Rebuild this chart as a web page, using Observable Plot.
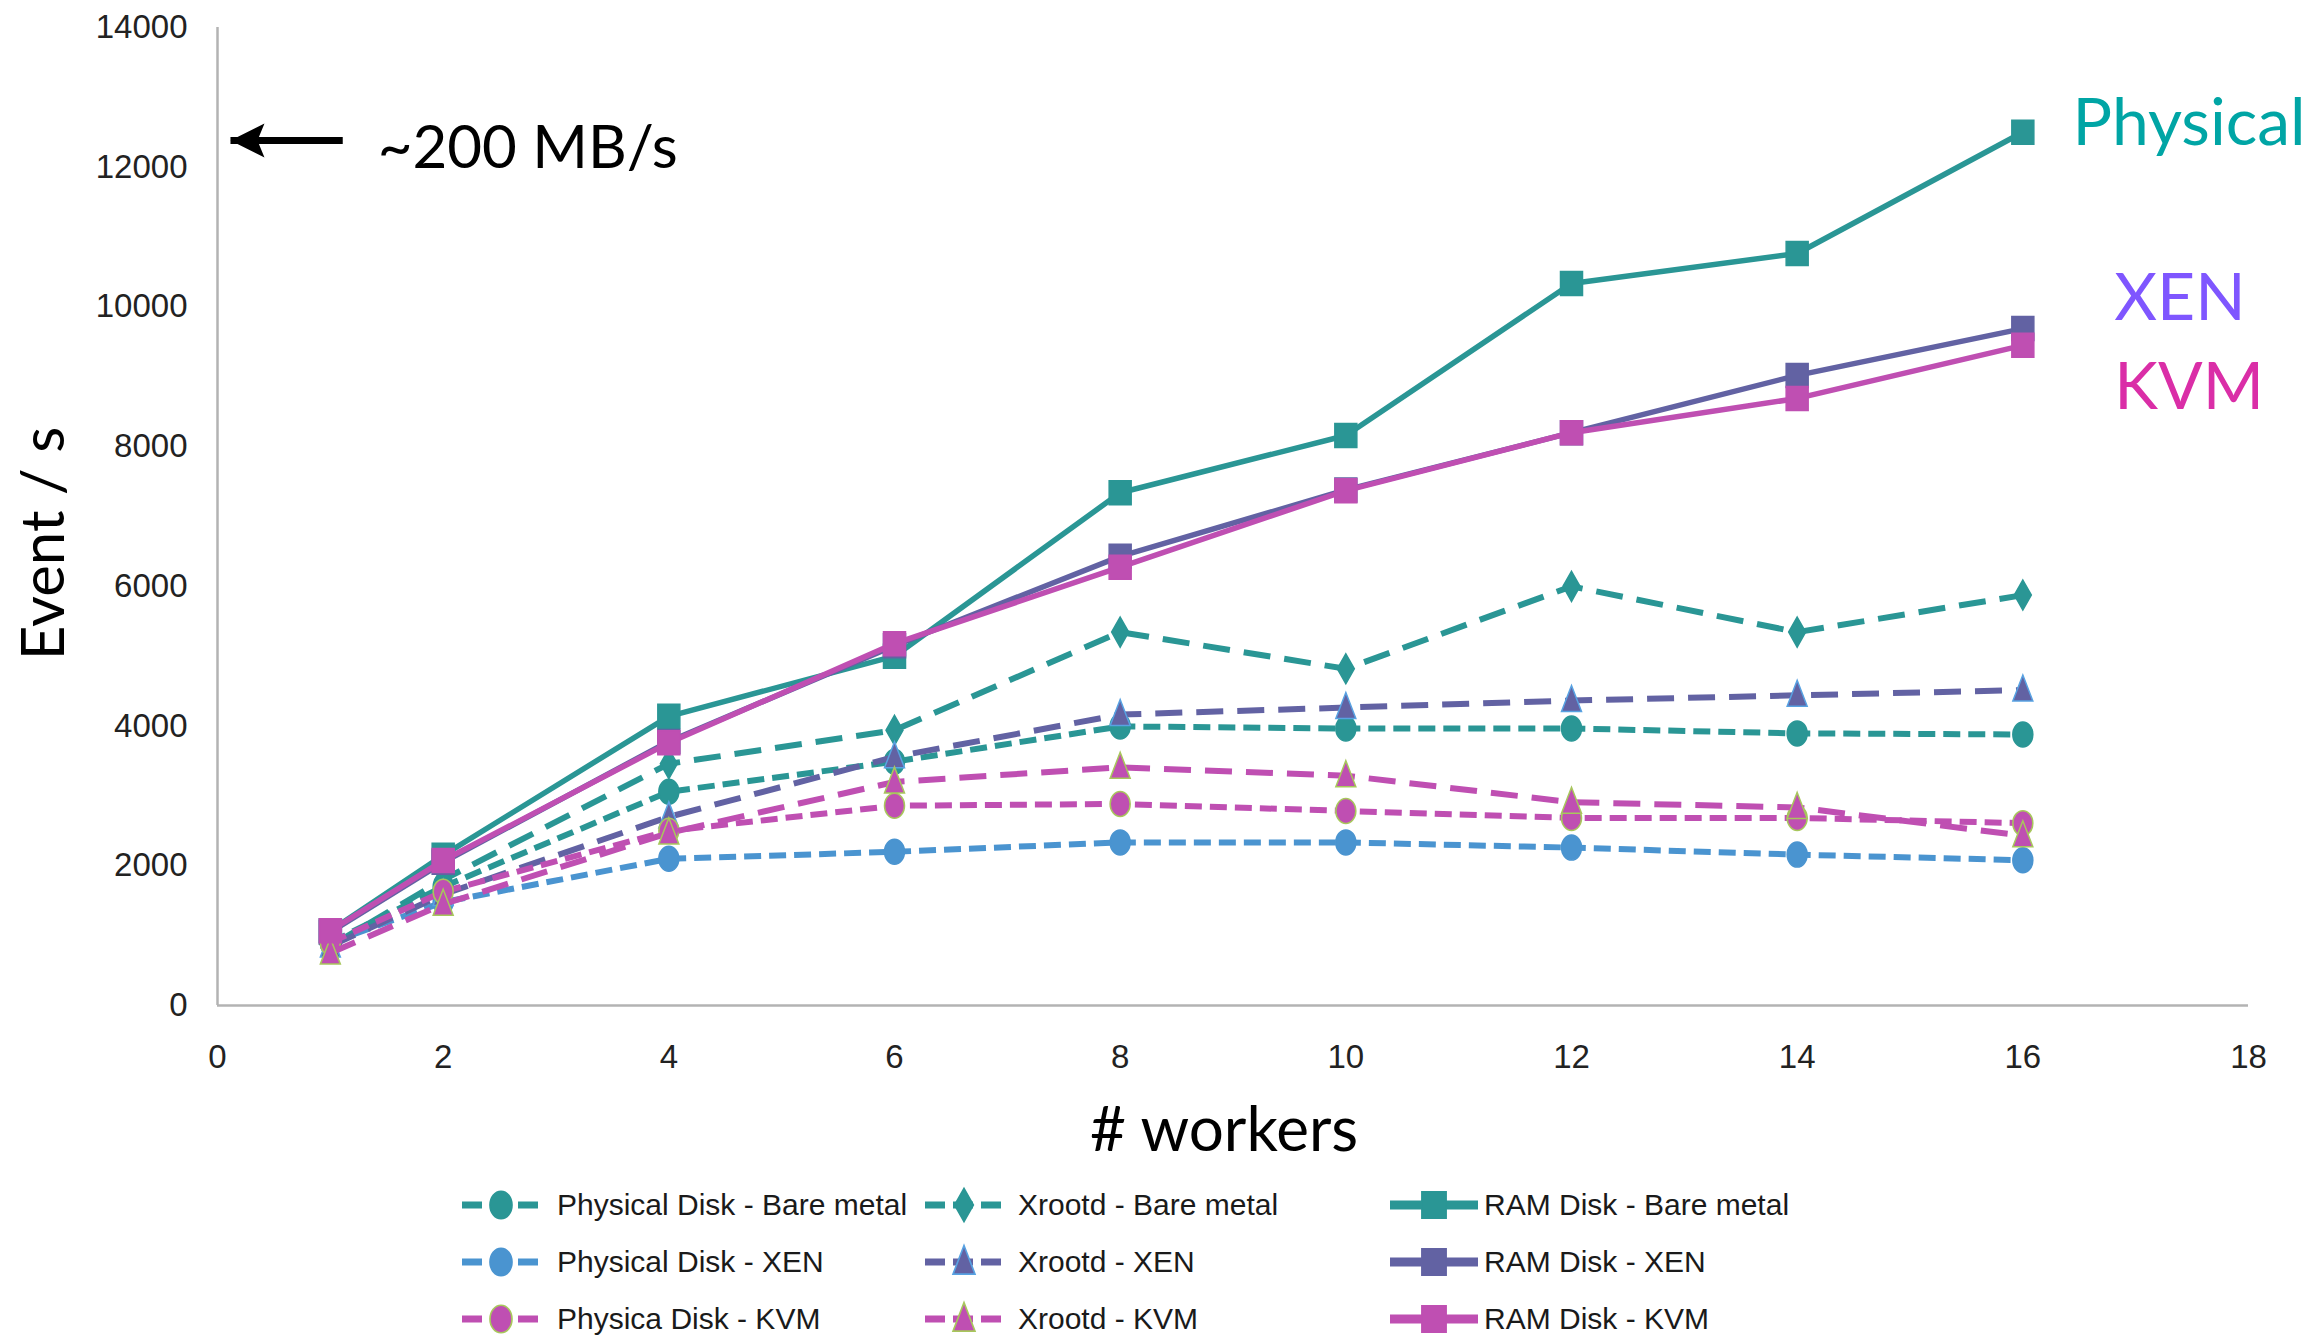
<!DOCTYPE html>
<html><head><meta charset="utf-8">
<script src="https://cdn.jsdelivr.net/npm/d3@7"></script>
<script src="https://cdn.jsdelivr.net/npm/@observablehq/plot@0.6"></script>
<style>
body{margin:0;background:#fff;}
#wrap{position:relative;width:2318px;height:1338px;overflow:hidden;background:#fff;}
.lgt{position:absolute;font-family:"Liberation Sans",Arial,sans-serif;font-size:30px;color:#1a1a1a;white-space:nowrap;line-height:40px;height:40px;}
.lgs{position:absolute;}
</style></head><body><div id="wrap"></div>
<script>
// ---- data ----
const workers = [1, 2, 4, 6, 8, 10, 12, 14, 16];
const physBare   = [900, 1700, 3060, 3490, 3995, 3965, 3965, 3895, 3880];
const xrootdBare = [850, 1800, 3460, 3940, 5345, 4820, 6000, 5345, 5875];
const ramBare    = [1070, 2150, 4140, 5000, 7340, 8160, 10335, 10765, 12500];
const physXen    = [900, 1480, 2100, 2200, 2335, 2335, 2260, 2160, 2080];
const xrootdXen  = [850, 1590, 2700, 3560, 4165, 4265, 4365, 4440, 4515];
const ramXen     = [1050, 2050, 3780, 5150, 6430, 7380, 8200, 9020, 9690];
const physKvm    = [900, 1630, 2500, 2860, 2885, 2785, 2685, 2685, 2610];
const xrootdKvm  = [750, 1450, 2470, 3200, 3410, 3290, 2910, 2835, 2430];
const ramKvm     = [1070, 2075, 3760, 5180, 6275, 7370, 8200, 8690, 9450];
const seriesNames = ["Physical Disk - Bare metal", "Xrootd - Bare metal", "RAM Disk - Bare metal",
                     "Physical Disk - XEN", "Xrootd - XEN", "RAM Disk - XEN",
                     "Physica Disk - KVM", "Xrootd - KVM", "RAM Disk - KVM"];
const seriesValues = [physBare, xrootdBare, ramBare, physXen, xrootdXen, ramXen, physKvm, xrootdKvm, ramKvm];
const xTicks = [0, 2, 4, 6, 8, 10, 12, 14, 16, 18];
const yTicks = [0, 2000, 4000, 6000, 8000, 10000, 12000, 14000];
const xTitle = "# workers";
const yTitle = "Event / s";
const noteText = "~200 MB/s";
const noteAt = {x: 1.42, y: 12268};
const arrowSpec = {x1: 1.11, x2: 0.115, y: 12382};
const groupLabels = [
  {t: "Physical", x: 16.44, y: 12625},
  {t: "XEN", x: 16.81, y: 10120},
  {t: "KVM", x: 16.81, y: 8846}
];

// ---- styles ----
const teal = "#2a9695", purple = "#6262a3", blue = "#4a94d0", magenta = "#bf4fb2", lime = "#a8c75c";
const ellipse = {draw(c) { const rx = 10, ry = 12.5, k = 0.5523;
  c.moveTo(rx, 0); c.bezierCurveTo(rx, ry * k, rx * k, ry, 0, ry); c.bezierCurveTo(-rx * k, ry, -rx, ry * k, -rx, 0);
  c.bezierCurveTo(-rx, -ry * k, -rx * k, -ry, 0, -ry); c.bezierCurveTo(rx * k, -ry, rx, -ry * k, rx, 0); c.closePath(); }};
const diamond = {draw(c) { c.moveTo(0, -15); c.lineTo(8.5, 0); c.lineTo(0, 15); c.lineTo(-8.5, 0); c.closePath(); }};
const square = {draw(c) { c.rect(-11, -12, 22, 24); }};
const triangle = {draw(c) { c.moveTo(0, -15); c.lineTo(10, 11); c.lineTo(-10, 11); c.closePath(); }};
const arrowHead = {draw(c) { c.moveTo(0, 0); c.lineTo(34, -17); c.lineTo(27, 0); c.lineTo(34, 17); c.closePath(); }};
const dash = {phys: "17 8", xrd: "27 14", ram: null};
const seriesStyles = [
  {color: teal, kind: "phys", sym: ellipse, stroke: teal},
  {color: teal, kind: "xrd", sym: diamond, stroke: teal},
  {color: teal, kind: "ram", sym: square, stroke: teal},
  {color: blue, kind: "phys", sym: ellipse, stroke: blue},
  {color: purple, kind: "xrd", sym: triangle, stroke: "#58a2e2"},
  {color: purple, kind: "ram", sym: square, stroke: purple},
  {color: magenta, kind: "phys", sym: ellipse, stroke: lime},
  {color: magenta, kind: "xrd", sym: triangle, stroke: lime},
  {color: magenta, kind: "ram", sym: square, stroke: magenta}
];
const labelColors = ["#00a5a5", "#7f56ff", "#da2ea7"];

// ---- marks ----
const marks = [
  Plot.ruleX([0], {stroke: "#b3b3b3", strokeWidth: 2.5}),
  Plot.ruleY([0], {stroke: "#b3b3b3", strokeWidth: 2.5}),
  Plot.axisX(xTicks, {tickSize: 0, tickPadding: 39, label: null, fontSize: 33, tickFormat: d => String(d)}),
  Plot.axisY(yTicks, {tickSize: 0, tickPadding: 30, label: null, fontSize: 33, tickFormat: d => String(d)}),
  Plot.text([xTitle], {frameAnchor: "bottom", text: d => d, dx: -9, dy: 145, fontSize: 62, fontFamily: "Lato", fill: "#000"}),
  Plot.text([yTitle], {frameAnchor: "left", textAnchor: "middle", text: d => d, rotate: -90, dx: -173, dy: 27, fontSize: 60, fontFamily: "Lato", fill: "#000"})
];
seriesValues.forEach((vals, i) => {
  const st = seriesStyles[i];
  const rows = workers.map((w, j) => ({w, v: vals[j]}));
  marks.push(Plot.line(rows, {x: "w", y: "v", stroke: st.color, strokeWidth: st.kind === "ram" ? 5.5 : 6,
    strokeDasharray: dash[st.kind] ?? undefined, strokeLinecap: "butt", strokeLinejoin: "round"}));
  marks.push(Plot.dot(rows, {x: "w", y: "v", symbol: st.sym, fill: st.color, stroke: st.stroke, strokeWidth: 1.5, r: 10}));
});
marks.push(Plot.link([arrowSpec], {x1: "x1", x2: "x2", y1: "y", y2: "y", stroke: "#000", strokeWidth: 7}));
marks.push(Plot.dot([arrowSpec], {x: "x2", y: "y", symbol: arrowHead, fill: "#000", stroke: "none", r: 10}));
marks.push(Plot.text([noteAt], {x: "x", y: "y", text: () => noteText, textAnchor: "start", fontSize: 60, fontFamily: "Lato", fill: "#000"}));
groupLabels.forEach((g, i) => {
  marks.push(Plot.text([g], {x: "x", y: "y", text: "t", textAnchor: "start", fontSize: 66, fontFamily: "Lato", fill: labelColors[i]}));
});

const chart = Plot.plot({
  width: 2318, height: 1175,
  marginLeft: 217, marginRight: 70, marginTop: 27, marginBottom: 170,
  x: {domain: [0, 18]},
  y: {domain: [0, 14000]},
  style: {fontFamily: "'Liberation Sans', Arial, sans-serif", fontSize: "33px", color: "#222", background: "#fff", overflow: "visible"},
  marks
});
const wrap = document.getElementById("wrap");
wrap.appendChild(chart);

// ---- legend ----
const colX = [462, 925, 1390], textX = [557, 1018, 1484], rowY = [1205, 1262, 1319];
seriesNames.forEach((name, i) => {
  const st = seriesStyles[i];
  const r = Math.floor(i / 3), c = i % 3;
  const w = st.kind === "ram" ? 88 : 78;
  const p = d3.path(); st.sym.draw(p);
  const svg = d3.create("svg").attr("class", "lgs").attr("width", w).attr("height", 40)
    .style("left", colX[c] + "px").style("top", (rowY[r] - 20) + "px");
  svg.append("line").attr("x1", 0).attr("x2", w).attr("y1", 20).attr("y2", 20)
    .attr("stroke", st.color).attr("stroke-width", st.kind === "ram" ? 9 : 7)
    .attr("stroke-dasharray", st.kind === "ram" ? null : "20 8");
  svg.append("path").attr("d", p.toString()).attr("transform", `translate(${w / 2},20) scale(1.1)`)
    .attr("fill", st.color).attr("stroke", st.stroke).attr("stroke-width", 1.5);
  wrap.appendChild(svg.node());
  const t = document.createElement("div");
  t.className = "lgt"; t.textContent = name;
  t.style.left = textX[c] + "px"; t.style.top = (rowY[r] - 20) + "px";
  wrap.appendChild(t);
});
</script></body></html>
